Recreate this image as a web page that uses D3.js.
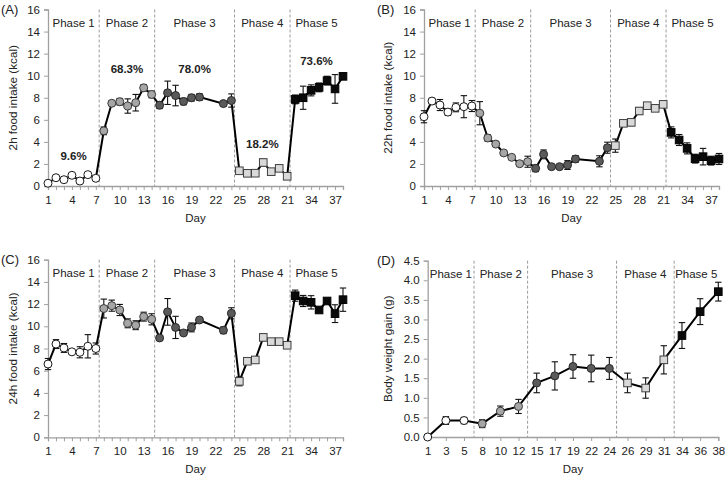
<!DOCTYPE html>
<html><head><meta charset="utf-8">
<script src="https://cdn.jsdelivr.net/npm/d3@7"></script>
<style>
html,body{margin:0;padding:0;background:#fff;}
svg{display:block;font-family:"Liberation Sans",Arial,sans-serif;}
</style></head><body>
<svg id="chart" width="725" height="477"></svg>
<script>
// ---------- data ----------
const days = [1,2,3,4,5,6,7, 8,9,10,11,12,13,14, 15,16,17,18,19,20,23,24, 25,26,27,28,29,30,31, 32,33,34,35,36,37,38];
const dayPhase = [1,1,1,1,1,1,1, 2,2,2,2,2,2,2, 3,3,3,3,3,3,3,3, 4,4,4,4,4,4,4, 5,5,5,5,5,5,5];

const intake2h = [0.25,0.75,0.57,0.97,0.45,1.03,0.7, 5.0,7.5,7.64,7.25,7.55,8.9,8.3, 7.32,8.45,8.2,7.66,8.0,8.06,7.47,7.75, 1.38,1.15,1.16,2.13,1.3,1.6,0.88, 7.85,8.0,8.67,8.94,9.55,8.8,9.94];
const intake2hErr = [0.1,0.15,0.1,0.15,0.1,0.15,0.15, 0.35,0.2,0.3,0.65,0.75,0.3,0.3, 0.3,1.06,0.93,0.3,0.3,0.3,0.2,0.6, 0.15,0.1,0.1,0.3,0.15,0.2,0.15, 0.4,1.05,0.5,0.4,0.4,1.3,0.2];

const intake22h = [6.28,7.7,7.34,6.7,7.13,7.19,7.25, 6.6,4.35,3.8,3.0,2.6,2.02,2.2, 1.6,2.87,1.75,1.75,1.9,2.45,2.24,3.47, 3.66,5.68,5.77,6.8,7.28,7.04,7.4, 4.86,4.17,3.41,2.48,2.66,2.3,2.45];
const intake22hErr = [0.55,0.25,0.5,0.3,0.4,1.0,0.5, 1.05,0.3,0.2,0.15,0.15,0.2,0.5, 0.3,0.4,0.15,0.15,0.4,0.3,0.5,0.5, 0.6,0.2,0.3,0.3,0.2,0.15,0.2, 0.5,0.5,0.5,0.4,0.75,0.4,0.5];

const intake24h = [6.6,8.4,8.05,7.7,7.66,8.2,8.0, 11.6,11.86,11.47,10.27,10.1,10.87,10.63, 8.95,11.3,9.9,9.4,9.9,10.57,9.64,11.17, 5.04,6.85,6.97,9.0,8.62,8.62,8.29, 12.76,12.28,12.16,11.47,12.28,11.14,12.4];
const intake24hErr = [0.5,0.4,0.4,0.15,0.5,1.05,0.5, 0.85,0.5,0.5,0.4,0.4,0.4,0.5, 0.2,1.2,1.0,0.2,0.4,0.2,0.3,0.5, 0.4,0.2,0.2,0.3,0.2,0.2,0.2, 0.5,0.5,0.6,0.2,0.2,0.8,1.05];

const bwDays = ["1","3","5","8","10","12","15","17","19","22","24","26","29","31","34","36","38"];
const bwPhase = [1,1,1,2,2,2,3,3,3,3,3,4,4,4,5,5,5];
const bwGain = [0,0.42,0.42,0.34,0.66,0.78,1.38,1.56,1.80,1.75,1.75,1.38,1.25,1.97,2.59,3.2,3.71];
const bwGainErr = [0,0.1,0.08,0.1,0.13,0.18,0.25,0.36,0.3,0.34,0.28,0.25,0.26,0.36,0.33,0.33,0.24];

const phaseNames = ["Phase 1","Phase 2","Phase 3","Phase 4","Phase 5"];
const phaseBreaksDay = [7.42, 14.38, 24.4, 31.36];
const phaseBreaksBW = [2.55, 5.5, 10.4, 13.57];
const dayTickLabels = ["1","4","7","10","13","16","19","22","25","28","21","34","37"];
const intakeTicks = [0,2,4,6,8,10,12,14,16];
const bwTicks = [0,0.5,1,1.5,2,2.5,3,3.5,4,4.5];
const pctLabels = ["9.6%","68.3%","78.0%","18.2%","73.6%"];
const pctValues = [2.72, 10.6, 10.6, 3.8, 11.33];

// ---------- styles ----------
const phaseFill = {1:"#ffffff",2:"#a6a6a6",3:"#5a5a5a",4:"#d9d9d9",5:"#0a0a0a"};
const phaseStroke = {1:"#1a1a1a",2:"#3a3a3a",3:"#2a2a2a",4:"#404040",5:"#000000"};
const phaseSquare = {1:false,2:false,3:false,4:true,5:true};
const AXIS = "#a0a0a0", TXT = "#222";
const FS = 11.5;

const svg = d3.select("#chart");

function panel(opt){
  const g = svg.append("g");
  const y = opt.y;
  // phase dividers
  opt.breaks.forEach(b=>{
    g.append("line").attr("x1",opt.bx(b)).attr("x2",opt.bx(b))
      .attr("y1",opt.top).attr("y2",opt.bottom)
      .attr("stroke","#9a9a9a").attr("stroke-width",1).attr("stroke-dasharray","3,2");
  });
  // phase labels
  const edges = [opt.left].concat(opt.breaks.map(opt.bx)).concat([opt.right]);
  phaseNames.forEach((p,i)=>{
    g.append("text").attr("x",(edges[i]+edges[i+1])/2).attr("y",opt.top+17.5)
      .attr("text-anchor","middle").attr("font-size",FS).attr("fill",TXT).text(p);
  });
  // axes
  const ya = d3.axisLeft(y).tickValues(opt.yTicks).tickSize(4).tickPadding(4).tickFormat(opt.yFmt);
  const yg = g.append("g").attr("transform",`translate(${opt.left},0)`).call(ya);
  const xg = g.append("g").attr("transform",`translate(0,${opt.bottom})`).call(opt.xAxis);
  [yg,xg].forEach(a=>{
    a.select(".domain").attr("stroke",AXIS).attr("stroke-width",1.3);
    a.selectAll(".tick line").attr("stroke",AXIS).attr("stroke-width",1);
    a.selectAll(".tick text").attr("font-size",FS).attr("fill",TXT).attr("font-family","Liberation Sans, Arial, sans-serif");
  });
  xg.selectAll(".tick text").attr("dy","0.95em");
  // titles
  g.append("text").attr("transform",`translate(${opt.ytX},${(opt.top+opt.bottom)/2}) rotate(-90)`)
    .attr("text-anchor","middle").attr("font-size",11.7).attr("fill",TXT).text(opt.yTitle);
  g.append("text").attr("x",(opt.left+opt.right)/2).attr("y",opt.bottom+36)
    .attr("text-anchor","middle").attr("font-size",FS).attr("fill",TXT).text("Day");
  g.append("text").attr("x",opt.tagX).attr("y",opt.top+4.5)
    .attr("font-size",13).attr("fill",TXT).text(opt.tag);
  // line
  const pts = opt.xs.map((d,i)=>({x:opt.px(d,i),v:opt.vals[i],e:opt.errs[i],p:opt.phase[i]}));
  g.append("path").datum(pts)
    .attr("d",d3.line().x(d=>d.x).y(d=>y(d.v)))
    .attr("fill","none").attr("stroke","#000").attr("stroke-width",2);
  // error bars
  const eb = g.append("g").attr("stroke","#111").attr("stroke-width",1.1);
  pts.filter(d=>d.e>0).forEach(d=>{
    eb.append("line").attr("x1",d.x).attr("x2",d.x).attr("y1",y(d.v-d.e)).attr("y2",y(d.v+d.e));
    [d.v-d.e,d.v+d.e].forEach(v=>{
      eb.append("line").attr("x1",d.x-3.2).attr("x2",d.x+3.2).attr("y1",y(v)).attr("y2",y(v));
    });
  });
  // markers
  pts.forEach(d=>{
    if(phaseSquare[d.p]){
      g.append("rect").attr("x",d.x-3.8).attr("y",y(d.v)-3.8).attr("width",7.6).attr("height",7.6)
        .attr("fill",phaseFill[d.p]).attr("stroke",phaseStroke[d.p]).attr("stroke-width",1);
    } else {
      g.append("circle").attr("cx",d.x).attr("cy",y(d.v)).attr("r",4)
        .attr("fill",phaseFill[d.p]).attr("stroke",phaseStroke[d.p]).attr("stroke-width",1);
    }
  });
  // percentages
  if(opt.pct){
    pctLabels.forEach((t,i)=>{
      g.append("text").attr("x",(edges[i]+edges[i+1])/2).attr("y",y(pctValues[i])+4)
        .attr("text-anchor","middle").attr("font-size",FS).attr("font-weight","bold")
        .attr("fill",TXT).text(t);
    });
  }
  return g;
}

function dayPanel(left,right,top,bottom,vals,errs,yTitle,tag,tagX,ytX,pct){
  const x = d3.scaleLinear().domain([1,38]).range([left,right]);
  const y = d3.scaleLinear().domain([0,16]).range([bottom,top]);
  const labelAt = new Map(dayTickLabels.map((l,i)=>[1+3*i,l]));
  const xAxis = d3.axisBottom(x).tickValues(d3.range(1,39)).tickSize(4).tickPadding(3)
    .tickFormat(d=>labelAt.has(d)?labelAt.get(d):"");
  panel({x,y,left,right,top,bottom,breaks:phaseBreaksDay,bx:x,yTicks:intakeTicks,yFmt:d3.format("d"),
    xAxis,xs:days,px:(d)=>x(d),vals,errs,phase:dayPhase,yTitle,tag,tagX,ytX,pct});
}

dayPanel(48,343,9.5,186,intake2h,intake2hErr,"2h food intake (kcal)","(A)",1,17,true);
dayPanel(424,719,9.5,186,intake22h,intake22hErr,"22h food intake (kcal)","(B)",377,392,false);
dayPanel(48,343,259.7,437.3,intake24h,intake24hErr,"24h food intake (kcal)","(C)",1,17,false);

(function(){
  const left=427.7,right=718.3,top=260.7,bottom=437;
  const x = d3.scalePoint().domain(bwDays).range([left,right]);
  const xi = d3.scaleLinear().domain([0,bwDays.length-1]).range([left,right]);
  const y = d3.scaleLinear().domain([0,4.5]).range([bottom,top]);
  const xAxis = d3.axisBottom(x).tickSize(4).tickPadding(3);
  panel({x,y,left,right,top,bottom,breaks:phaseBreaksBW,bx:xi,yTicks:bwTicks,yFmt:d3.format(".1f"),
    xAxis,xs:bwDays,px:(d)=>x(d),vals:bwGain,errs:bwGainErr,phase:bwPhase,
    yTitle:"Body weight gain (g)",tag:"(D)",tagX:377,ytX:392,pct:false});
})();
</script>
</body></html>
